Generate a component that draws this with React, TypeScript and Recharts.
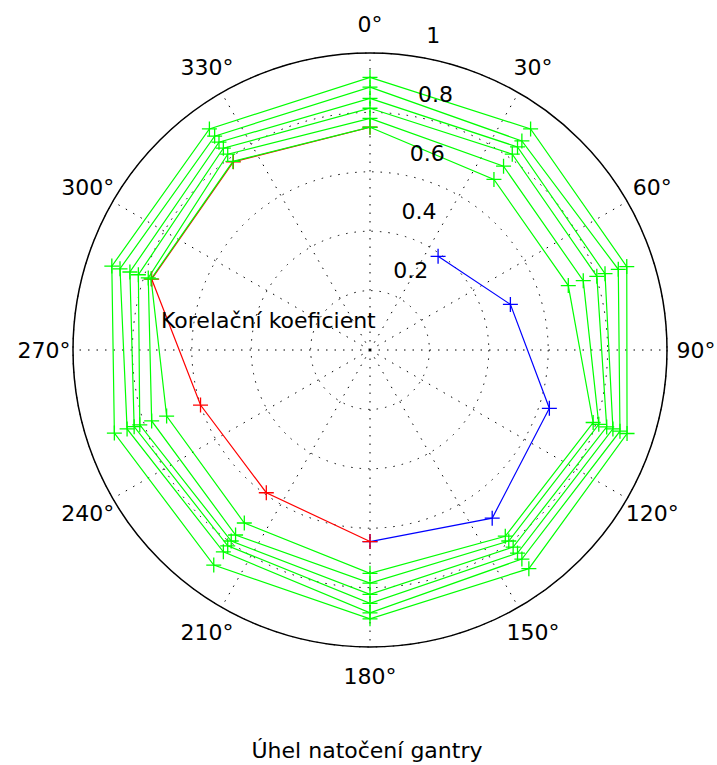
import { PolarAngleAxis, PolarGrid, PolarRadiusAxis, Radar, RadarChart } from "recharts";

const FONT = "'DejaVu Sans', sans-serif";
const ZELENA = "#00ff00";
const MODRA_BARVA = "#0000ff";
const CERVENA_BARVA = "#ff0000";

// úhly natočení gantry (°), 360 = uzavření červené větve
const UHLY = [0, 36, 72, 108, 144, 180, 216, 252, 288, 324, 360];

// korelační koeficienty, zelené sady od vnější po vnitřní
const ZELENA_1 = [0.918, 0.92, 0.909, 0.91, 0.91, 0.905, 0.895, 0.905, 0.914, 0.92, null];
const ZELENA_2 = [0.885, 0.87, 0.879, 0.885, 0.87, 0.885, 0.84, 0.86, 0.885, 0.89, null];
const ZELENA_3 = [0.847, 0.845, 0.832, 0.86, 0.845, 0.853, 0.815, 0.835, 0.85, 0.865, null];
const ZELENA_4 = [0.814, 0.815, 0.803, 0.838, 0.82, 0.823, 0.795, 0.815, 0.82, 0.84, null];
const ZELENA_5 = [0.78, 0.765, 0.755, 0.81, 0.795, 0.785, 0.77, 0.773, 0.785, 0.815, null];
const ZELENA_6 = [0.75, 0.71, 0.702, 0.79, 0.775, 0.752, 0.72, 0.72, 0.775, 0.785, null];
const MODRA = [null, 0.39, 0.497, 0.635, 0.7, 0.645, null, null, null, null, null];
const CERVENA = [null, null, null, null, null, 0.645, 0.594, 0.6, 0.773, 0.783, 0.75];

const POPISKY_UHLU = [0, 30, 60, 90, 120, 150, 180, 210, 240, 270, 300, 330];
const POPISKY_R = [0.2, 0.4, 0.6, 0.8, 1];

const data = UHLY.map((uhel, i) => ({
  uhel,
  z1: ZELENA_1[i],
  z2: ZELENA_2[i],
  z3: ZELENA_3[i],
  z4: ZELENA_4[i],
  z5: ZELENA_5[i],
  z6: ZELENA_6[i],
  modra: MODRA[i],
  cervena: CERVENA[i],
}));

const SERIE = [
  { key: "modra", barva: MODRA_BARVA, uzavrena: false },
  { key: "cervena", barva: CERVENA_BARVA, uzavrena: false },
  { key: "z1", barva: ZELENA, uzavrena: true },
  { key: "z2", barva: ZELENA, uzavrena: true },
  { key: "z3", barva: ZELENA, uzavrena: true },
  { key: "z4", barva: ZELENA, uzavrena: true },
  { key: "z5", barva: ZELENA, uzavrena: true },
  { key: "z6", barva: ZELENA, uzavrena: true },
];

// chybějící hodnota (null) se nekreslí – recharts by ji dal do středu
const maHodnotu = (p: any) =>
  p != null && p.value != null && Number.isFinite(p.x) && Number.isFinite(p.y);

// čára jen přes body s hodnotou (modrá a červená nejsou uzavřené)
function makeShape(barva: string, uzavrena: boolean) {
  return function Tvar(props: any) {
    const pts = (props.points ?? []).filter(maHodnotu);
    if (!pts.length) return <g />;
    const d =
      pts.map((p: any, i: number) => `${i ? "L" : "M"}${p.x},${p.y}`).join("") +
      (uzavrena ? "Z" : "");
    return <path d={d} fill="none" stroke={barva} strokeWidth={1.2} />;
  };
}

// značka "+" jako v MATLABu
function makePlus(barva: string, key: string) {
  return function Plus(props: any) {
    const { cx, cy, payload } = props;
    const radek = payload?.payload ?? payload;
    const v = radek?.[key];
    if (v == null || !Number.isFinite(cx) || !Number.isFinite(cy)) return <g />;
    return (
      <path
        d={`M${cx - 7.5},${cy}H${cx + 7.5}M${cx},${cy - 7.5}V${cy + 7.5}`}
        stroke={barva}
        strokeWidth={1.3}
        fill="none"
      />
    );
  };
}

function UhelTick(props: any) {
  const { x, y, payload } = props;
  return (
    <text
      x={x}
      y={y}
      textAnchor="middle"
      dominantBaseline="central"
      fontSize={22}
      fontFamily={FONT}
      fill="#000"
    >
      {`${payload.value}°`}
    </text>
  );
}

function PolomerTick(props: any) {
  const { x, y, payload } = props;
  return (
    <text x={x + 15} y={y - 13} textAnchor="start" fontSize={22} fontFamily={FONT} fill="#000">
      {String(payload.value)}
    </text>
  );
}

export default function App() {
  return (
    <div
      style={{
        position: "absolute",
        left: 0,
        top: 0,
        width: 717,
        height: 765,
        background: "#fff",
      }}
    >
      <RadarChart
        width={717}
        height={700}
        data={data}
        cx={370}
        cy={350}
        outerRadius={297}
        startAngle={90}
        endAngle={-270}
        margin={{ top: 0, right: 0, bottom: 0, left: 0 }}
      >
        <PolarGrid gridType="circle" stroke="#000" strokeWidth={1} strokeDasharray="1.5 7" />
        <PolarAngleAxis
          dataKey="uhel"
          type="number"
          domain={[0, 360]}
          ticks={POPISKY_UHLU}
          axisLineType="circle"
          axisLine={{ stroke: "#000", strokeWidth: 1.5 }}
          tickLine={false}
          tickSize={29}
          tick={<UhelTick />}
        />
        <PolarRadiusAxis
          angle={82}
          type="number"
          domain={[0, 1]}
          ticks={POPISKY_R}
          axisLine={false}
          tickLine={false}
          tick={<PolomerTick />}
        />
        {SERIE.map((s) => (
          <Radar
            key={s.key}
            dataKey={s.key}
            stroke={s.barva}
            fill="none"
            shape={makeShape(s.barva, s.uzavrena)}
            dot={makePlus(s.barva, s.key)}
            isAnimationActive={false}
          />
        ))}
      </RadarChart>
      <svg
        width={717}
        height={765}
        style={{ position: "absolute", left: 0, top: 0, pointerEvents: "none" }}
      >
        <text x={161} y={328} fontSize={22} fontFamily={FONT} fill="#000">
          Korelační koeficient
        </text>
        <text x={367} y={758} textAnchor="middle" fontSize={22} fontFamily={FONT} fill="#000">
          Úhel natočení gantry
        </text>
      </svg>
    </div>
  );
}
